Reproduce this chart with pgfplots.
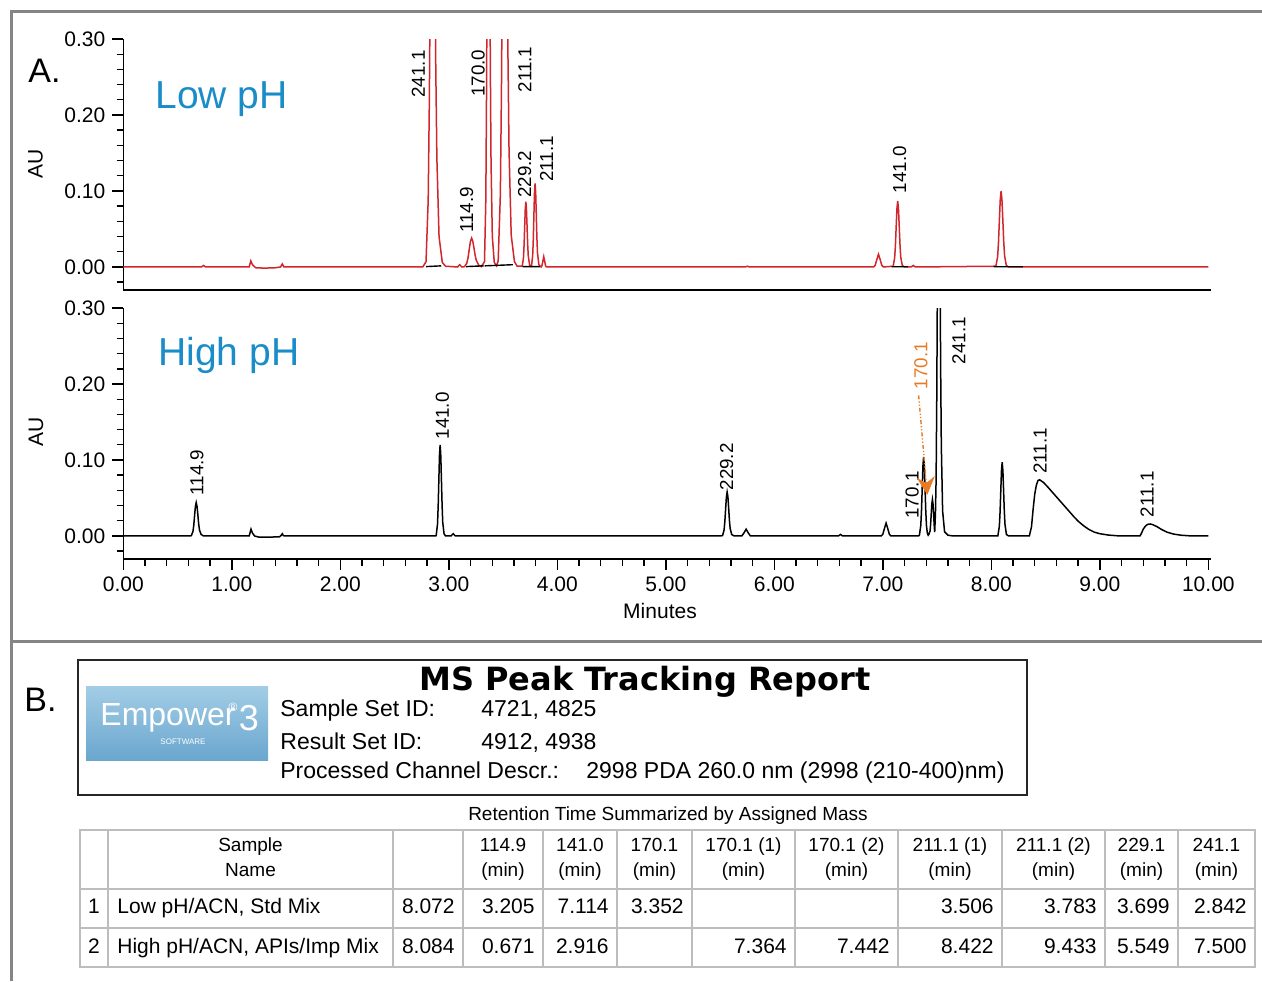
\documentclass[border=0pt]{standalone}
\usepackage{fontspec}
\setmainfont{Liberation Sans}
\newfontfamily\dejavu{DejaVu Sans}
\usepackage{pgfplots}
\pgfplotsset{compat=1.18}
\usetikzlibrary{arrows.meta}
\definecolor{lowred}{HTML}{D0262C}
\definecolor{phblue}{HTML}{1A8CC8}
\definecolor{arrorange}{HTML}{E87B26}
\definecolor{framegray}{HTML}{858585}
\definecolor{tablegray}{HTML}{BDBDBD}
\definecolor{logotop}{HTML}{A3CDE6}
\definecolor{logobot}{HTML}{6AA6CE}

\pgfplotsset{chrom/.style={
  scale only axis, width=543.6pt, height=125.5pt,
  anchor=south west,
  xmin=0, xmax=10.02, ymin=-0.0303, ymax=0.30,
  axis x line*=bottom, axis y line*=left,
  axis line style={black, line width=0.8pt},
  tick align=outside, tick style={black, line width=0.7pt},
  major tick length=5.5pt, minor tick length=3.3pt,
  ytick={0,0.1,0.2,0.3},
  minor ytick={-0.02,0.02,0.04,0.06,0.08,0.12,0.14,0.16,0.18,0.22,0.24,0.26,0.28},
  scaled ticks=false,
  /pgf/number format/fixed, /pgf/number format/fixed zerofill,
  /pgf/number format/precision=2, /pgf/number format/assume math mode=true,
  tick label style={font=\fontsize{10.5}{12}\selectfont},
  clip=true,
}}
\newcommand{\pk}{\fontsize{9.4}{10}\selectfont}

\begin{document}
\begin{tikzpicture}
\begin{scope}[x=0.5pt,y=-0.5pt]
\path[use as bounding box] (0,0) rectangle (1262,981);
\draw[framegray, line width=1.5pt] (11,981) -- (11,11) -- (1262,11);
\draw[framegray, line width=1.5pt] (11,641) -- (1262,641);
\end{scope}

% ---------------- Low pH ----------------
\begin{axis}[chrom, at={(61.65pt,-145pt)}, xtick=\empty]
\addplot[lowred, line width=0.75pt] coordinates {
(0,0) (0.72,0) (0.74,0.002) (0.76,0) (1.16,0) (1.175,0.008) (1.19,0.003) (1.22,-0.001) (1.30,-0.0015) (1.40,-0.001) (1.45,0) (1.465,0.004) (1.48,0)
(2.76,0) (2.79,0.007) (2.81,0.088) (2.82,0.211) (2.83,0.395) (2.84,0.573) (2.85,0.65) (2.86,0.58) (2.87,0.42) (2.88,0.26) (2.89,0.143) (2.91,0.04) (2.94,0.006) (2.97,0.001)
(3.08,0) (3.10,0.003) (3.12,0)
(3.144,0.0004) (3.166,0.005) (3.177,0.012) (3.188,0.023) (3.199,0.0335) (3.21,0.038) (3.221,0.034) (3.232,0.025) (3.243,0.015) (3.254,0.0085) (3.276,0.0023) (3.30,0.0005)
(3.329,0.007) (3.341,0.088) (3.347,0.21) (3.353,0.39) (3.359,0.57) (3.365,0.65) (3.371,0.58) (3.377,0.42) (3.383,0.26) (3.389,0.14) (3.401,0.04) (3.419,0.006) (3.44,0.0015)
(3.455,0.008) (3.475,0.095) (3.485,0.23) (3.495,0.425) (3.505,0.62) (3.515,0.7) (3.525,0.62) (3.535,0.455) (3.545,0.28) (3.555,0.154) (3.575,0.042) (3.605,0.007) (3.63,0.001)
(3.677,0.001) (3.688,0.012) (3.6935,0.028) (3.699,0.052) (3.7045,0.076) (3.71,0.086) (3.7155,0.076) (3.721,0.054) (3.7265,0.031) (3.732,0.015) (3.745,0.002)
(3.762,0.001) (3.773,0.015) (3.7785,0.036) (3.784,0.067) (3.7895,0.097) (3.795,0.11) (3.8005,0.098) (3.806,0.07) (3.8115,0.04) (3.817,0.019) (3.83,0.003)
(3.851,0) (3.859,0.002) (3.867,0.008) (3.875,0.0135) (3.883,0.008) (3.891,0.002) (3.90,0)
(5.73,0) (5.75,0.001) (5.77,0)
(6.915,0) (6.93,0.0023) (6.945,0.01) (6.96,0.0167) (6.975,0.01) (6.99,0.0023) (7.005,0)
(7.095,0.001) (7.109,0.012) (7.116,0.028) (7.123,0.053) (7.13,0.077) (7.137,0.087) (7.144,0.077) (7.151,0.054) (7.158,0.03) (7.165,0.013) (7.179,0.002) (7.20,0)
(7.26,0) (7.28,0.002) (7.30,0)
(8.042,0.001) (8.058,0.0135) (8.066,0.0325) (8.074,0.061) (8.082,0.088) (8.09,0.1) (8.098,0.088) (8.106,0.062) (8.114,0.034) (8.122,0.015) (8.138,0.002) (8.16,0)
(10.0,0)
};
\addplot[black, line width=0.7pt, unbounded coords=jump] coordinates {
(2.79,0.0005) (2.93,0.0015) (2.95,nan)
(3.16,0.0005) (3.32,0.0015) (3.325,nan)
(3.33,0.0015) (3.59,0.003) (3.60,nan)
(3.68,0.0005) (3.84,0.0005) (3.85,nan)
(7.08,0.0003) (7.23,0.0003) (7.24,nan)
(8.02,0.0003) (8.29,0.0003)
};
\node[rotate=90, font=\pk] at (axis cs:2.72,0.254) {241.1};
\node[rotate=90, font=\pk] at (axis cs:3.165,0.075) {114.9};
\node[rotate=90, font=\pk] at (axis cs:3.27,0.255) {170.0};
\node[rotate=90, font=\pk] at (axis cs:3.70,0.26) {211.1};
\node[rotate=90, font=\pk] at (axis cs:3.70,0.122) {229.2};
\node[rotate=90, font=\pk] at (axis cs:3.90,0.142) {211.1};
\node[rotate=90, font=\pk] at (axis cs:7.156,0.128) {141.0};
\end{axis}

% ---------------- High pH ----------------
\begin{axis}[chrom, at={(61.65pt,-279.5pt)}, xtick={0,1,...,10}, minor x tick num=4]
\addplot[black, line width=0.75pt] coordinates {
(0,0) (0.62,0) (0.627,0.0005) (0.642,0.006) (0.6495,0.014) (0.657,0.027) (0.6645,0.039) (0.672,0.044) (0.6795,0.039) (0.687,0.028) (0.6945,0.016) (0.702,0.008) (0.717,0.002) (0.74,0)
(1.16,0) (1.177,0.009) (1.19,0.004) (1.21,0) (1.25,-0.0015) (1.35,-0.0015) (1.44,-0.001) (1.455,0.0008) (1.465,0.003) (1.475,0.0005) (1.49,0)
(2.88,0) (2.884,0.001) (2.896,0.016) (2.902,0.039) (2.908,0.073) (2.914,0.106) (2.92,0.12) (2.926,0.106) (2.932,0.074) (2.938,0.041) (2.944,0.018) (2.956,0.003) (2.97,0)
(3.02,0) (3.04,0.003) (3.06,0)
(5.50,0) (5.523,0.0006) (5.537,0.008) (5.544,0.019) (5.551,0.035) (5.558,0.051) (5.565,0.058) (5.572,0.052) (5.579,0.037) (5.586,0.021) (5.593,0.01) (5.607,0.002) (5.63,0)
(5.70,0) (5.72,0.004) (5.74,0.009) (5.76,0.004) (5.78,0)
(6.59,0) (6.61,0.002) (6.63,0)
(6.985,0) (7.00,0.0023) (7.015,0.01) (7.03,0.017) (7.045,0.01) (7.06,0.0023) (7.075,0)
(7.33,0) (7.337,0.001) (7.35,0.014) (7.3565,0.034) (7.363,0.063) (7.3695,0.092) (7.376,0.104) (7.3825,0.092) (7.389,0.063) (7.3955,0.034) (7.402,0.014) (7.41,0.004) (7.418,0.001) (7.424,0.002)
(7.435,0.0065) (7.4405,0.0156) (7.446,0.029) (7.4515,0.042) (7.457,0.048) (7.4625,0.042) (7.468,0.029) (7.4735,0.014) (7.478,0.005)
(7.485,0.03) (7.491,0.074) (7.497,0.179) (7.503,0.334) (7.509,0.485) (7.515,0.55) (7.521,0.49) (7.527,0.36) (7.533,0.22) (7.539,0.12) (7.551,0.033) (7.569,0.0055) (7.60,0.001) (7.65,0)
(8.06,0) (8.061,0.001) (8.074,0.013) (8.0805,0.0315) (8.087,0.059) (8.0935,0.086) (8.10,0.097) (8.1065,0.086) (8.113,0.06) (8.1195,0.033) (8.126,0.015) (8.139,0.002) (8.16,0)
(8.35,0) (8.37,0.012) (8.385,0.035) (8.40,0.055) (8.415,0.067) (8.43,0.073) (8.445,0.074) (8.46,0.0725) (8.48,0.0705) (8.52,0.0645) (8.56,0.058) (8.60,0.0515) (8.64,0.045) (8.68,0.0385) (8.72,0.032) (8.76,0.0255) (8.80,0.0195) (8.85,0.0135) (8.90,0.0085) (8.95,0.005) (9.00,0.003) (9.08,0.0012) (9.16,0.0003) (9.25,0)
(9.37,0) (9.385,0.004) (9.40,0.009) (9.42,0.013) (9.44,0.0153) (9.465,0.0158) (9.49,0.0148) (9.53,0.012) (9.57,0.0085) (9.62,0.005) (9.68,0.0025) (9.75,0.001) (9.82,0.0003) (9.9,0) (10.0,0)
};
\node[rotate=90, font=\pk] at (axis cs:0.679,0.0835) {114.9};
\node[rotate=90, font=\pk] at (axis cs:2.94,0.158) {141.0};
\node[rotate=90, font=\pk] at (axis cs:5.56,0.091) {229.2};
\node[rotate=90, font=\pk] at (axis cs:7.27,0.054) {170.1};
\node[rotate=90, font=\pk] at (axis cs:7.70,0.257) {241.1};
\node[rotate=90, font=\pk] at (axis cs:8.45,0.112) {211.1};
\node[rotate=90, font=\pk] at (axis cs:9.435,0.055) {211.1};
\node[rotate=90, font=\pk, text=arrorange] at (axis cs:7.35,0.224) {170.1};
\draw[arrorange, line width=0.7pt, dash pattern=on 2pt off 1pt on 0.6pt off 1pt on 0.6pt off 1pt, -{Stealth[length=9pt,width=9pt,inset=3pt]}] (axis cs:7.33,0.185) -- (axis cs:7.41,0.054);
\end{axis}

\begin{scope}[x=0.5pt,y=-0.5pt]
% panel A texts
\node[anchor=base west, inner sep=0, font=\fontsize{17}{20}\selectfont] at (28,82) {A.};
\node[anchor=base west, inner sep=0, text=phblue, font=\fontsize{19.5}{23}\selectfont] at (155,108) {Low pH};
\node[anchor=base west, inner sep=0, text=phblue, font=\fontsize{19.5}{23}\selectfont] at (158,365) {High pH};
\node[rotate=90, font=\fontsize{10.5}{12}\selectfont] at (35.5,163.5) {AU};
\node[rotate=90, font=\fontsize{10.5}{12}\selectfont] at (36,432) {AU};
\node[font=\fontsize{10.5}{12}\selectfont] at (660,611) {Minutes};

% panel B
\node[anchor=base west, inner sep=0, font=\fontsize{17}{20}\selectfont] at (24,711) {B.};
\draw[black!85, line width=1pt] (78,660) rectangle (1027,795);
\shade[top color=logotop, bottom color=logobot] (86,686) rectangle (268,760);
\node[text=white, font=\fontsize{16}{18}\selectfont, inner sep=0] at (168,718) {Empower};
\node[text=white, font=\fontsize{6}{7}\selectfont, inner sep=0] at (233,707) {®};
\node[text=white, font=\fontsize{18}{20}\selectfont, inner sep=0] at (249,718) {3};
\node[text=white, font=\fontsize{4}{5}\selectfont, inner sep=0] at (183,742) {SOFTWARE};
\node[anchor=base, inner sep=0, font=\dejavu\bfseries\fontsize{16}{19}\selectfont] at (645,690) {MS Peak Tracking Report};
\begin{scope}[every node/.style={anchor=mid west, inner sep=0, font=\fontsize{11.5}{13}\selectfont}]
\node at (280,711) {Sample Set ID:};
\node at (481,711) {4721, 4825};
\node at (280,744) {Result Set ID:};
\node at (481,744) {4912, 4938};
\node at (280,773) {Processed Channel Descr.:};
\node at (586,773) {2998 PDA 260.0 nm (2998 (210-400)nm)};
\end{scope}

% table
\node[font=\fontsize{9.5}{11}\selectfont] at (668,816) {Retention Time Summarized by Assigned Mass};
\draw[tablegray, line width=0.6pt] (80,830) rectangle (1255,967);
\draw[tablegray, line width=0.6pt] (80,889) -- (1255,889) (80,928) -- (1255,928);
\foreach \xx in {108,393,463,543,617,692,795,898,1002,1105,1178}
  \draw[tablegray, line width=0.6pt] (\xx,830) -- (\xx,967);
\begin{scope}[every node/.style={anchor=mid, inner sep=0, font=\fontsize{9.5}{11}\selectfont}]
\node at (250.5,846) {Sample};
\node at (250.5,871) {Name};
\foreach \cx/\lab in {503/114.9, 580/141.0, 654.5/170.1, 743.5/170.1 (1), 846.5/170.1 (2), 950/211.1 (1), 1053.5/211.1 (2), 1141.5/229.1, 1216.5/241.1}{
  \node at (\cx,846) {\lab};
  \node at (\cx,871) {(min)};
}
\end{scope}
\begin{scope}[every node/.style={inner sep=0, font=\fontsize{10.5}{12}\selectfont}]
\node[anchor=mid] at (94,908) {1};
\node[anchor=mid] at (94,948) {2};
\node[anchor=mid west] at (117,908) {Low pH/ACN, Std Mix};
\node[anchor=mid west] at (117,948) {High pH/ACN, APIs/Imp Mix};
\foreach \rx/\va/\vb in {455/8.072/8.084, 535/3.205/0.671, 609/7.114/2.916, 684/3.352/, 787/ /7.364, 890/ /7.442, 994/3.506/8.422, 1097/3.783/9.433, 1170/3.699/5.549, 1247/2.842/7.500}{
  \node[anchor=mid east] at (\rx,908) {\va};
  \node[anchor=mid east] at (\rx,948) {\vb};
}
\end{scope}
\end{scope}
\end{tikzpicture}
\end{document}
